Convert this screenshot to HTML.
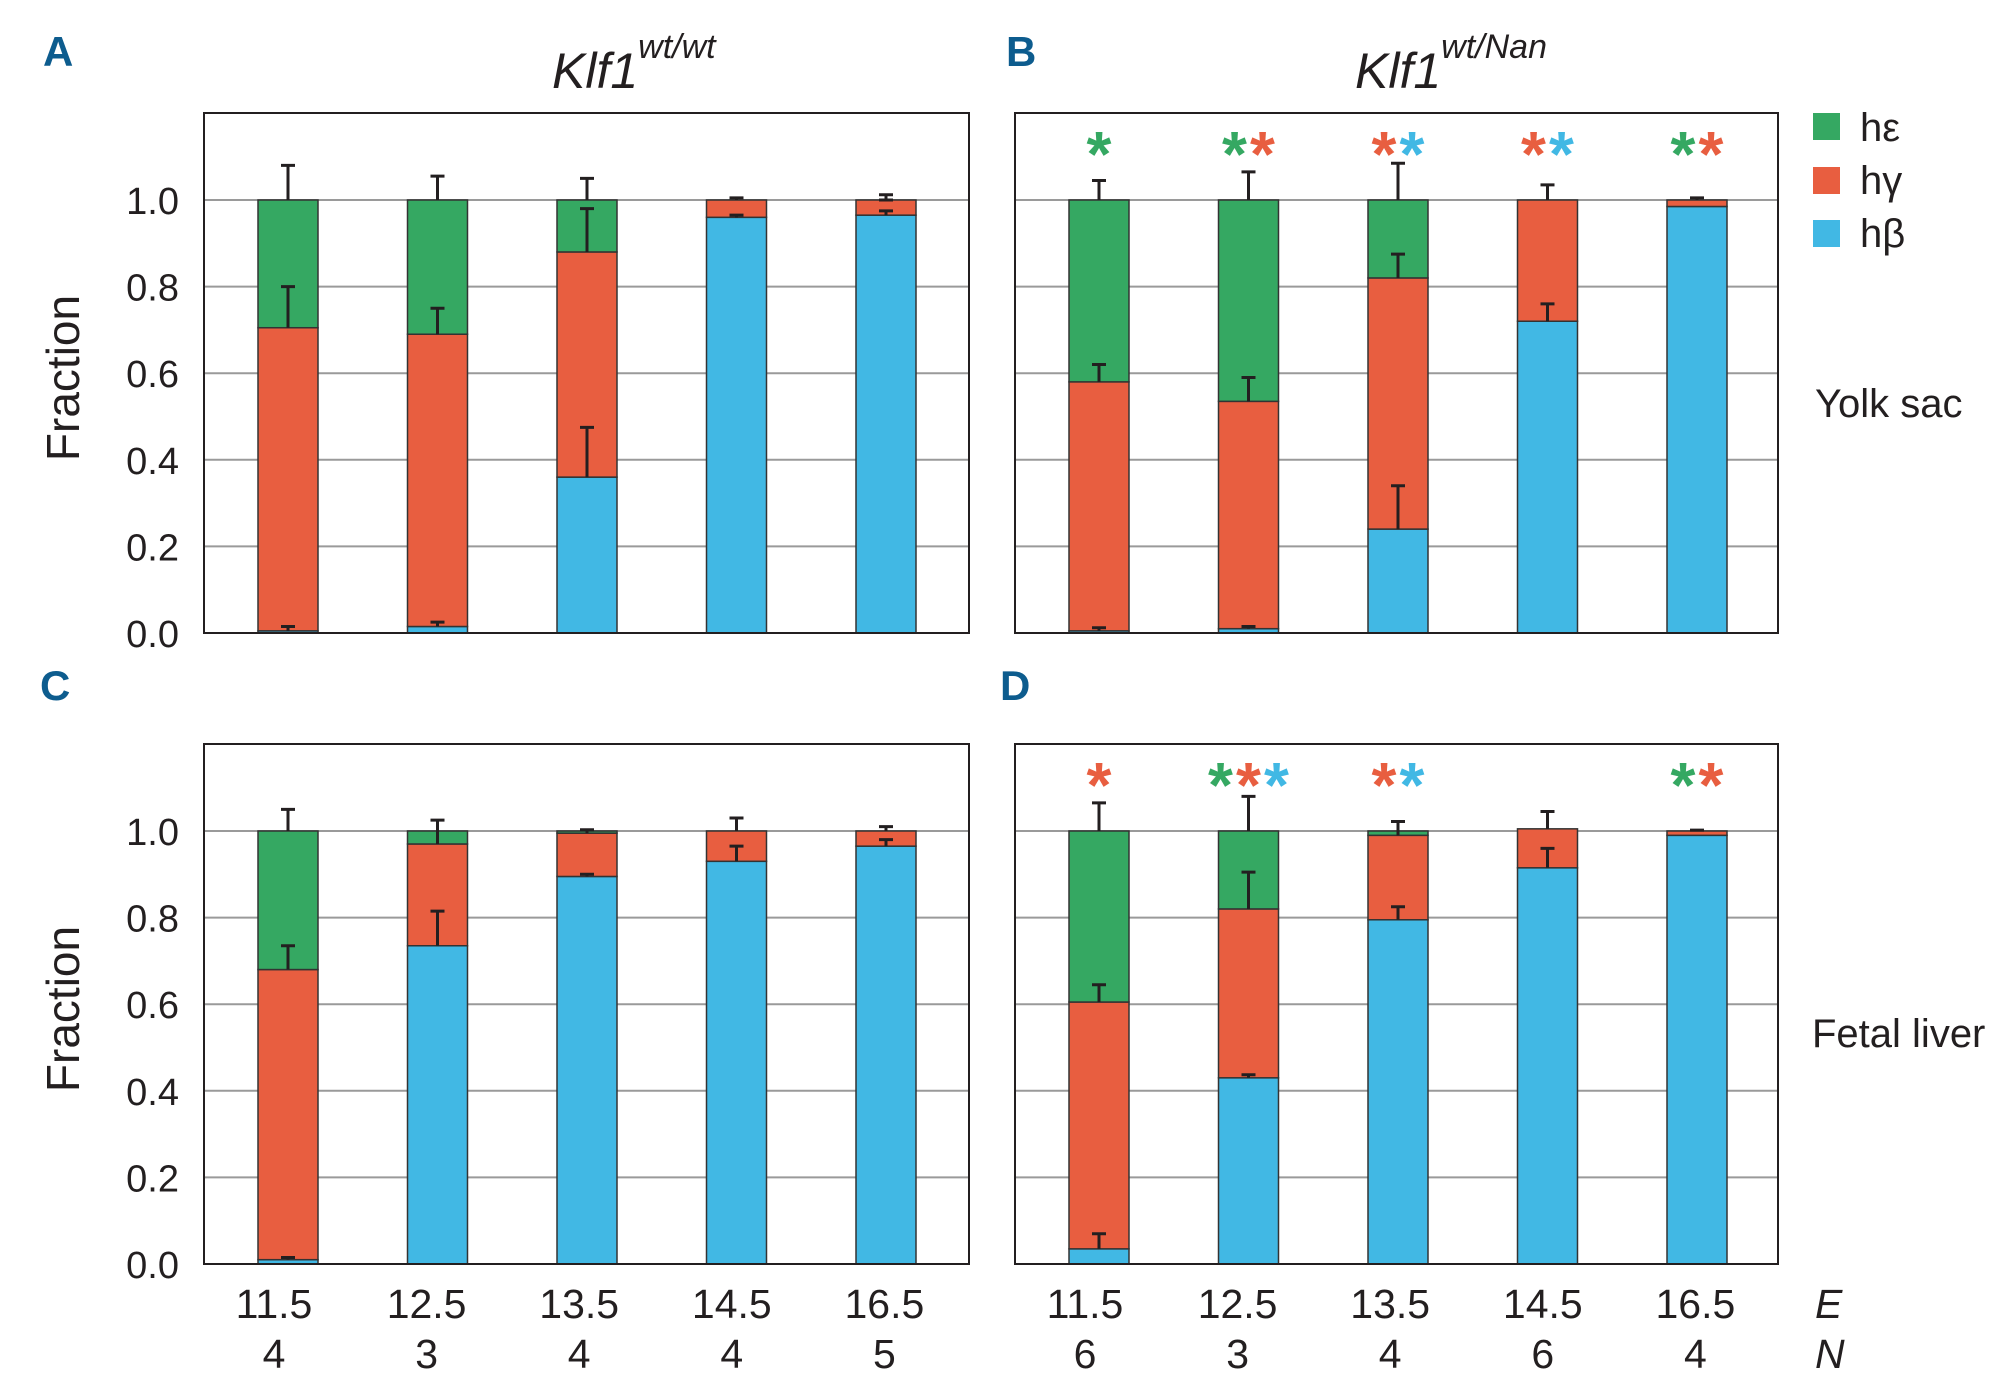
<!DOCTYPE html>
<html><head><meta charset="utf-8"><style>
html,body{margin:0;padding:0;background:#fff;}
svg{display:block;font-family:"Liberation Sans",sans-serif;}
</style></head><body>
<svg id="fig" width="2000" height="1385" viewBox="0 0 2000 1385" xmlns="http://www.w3.org/2000/svg"></svg>
<script>
// ---- data ----
const stages = ["11.5","12.5","13.5","14.5","16.5"];
const yTicks = [0,0.2,0.4,0.6,0.8,1.0];
const nA = ["4","3","4","4","5"];
const nB = ["6","3","4","6","4"];
// fractions: beta, gamma, epsilon per stage
const betaA = [0.005,0.015,0.36,0.96,0.965];
const gammaA = [0.70,0.675,0.52,0.04,0.035];
const epsA = [0.295,0.31,0.12,0,0];
const errBetaA = [0.015,0.025,0.475,0.965,0.975];
const errGammaA = [0.80,0.75,0.98,1.005,1.0];
const errEpsA = [1.08,1.055,1.05,null,1.012];

const betaB = [0.005,0.01,0.24,0.72,0.985];
const gammaB = [0.575,0.525,0.58,0.28,0.015];
const epsB = [0.42,0.465,0.18,0,0];
const errBetaB = [0.012,0.015,0.34,0.76,null];
const errGammaB = [0.62,0.59,0.875,1.035,1.005];
const errEpsB = [1.045,1.065,1.085,null,null];

const betaC = [0.01,0.735,0.895,0.93,0.965];
const gammaC = [0.67,0.235,0.10,0.07,0.035];
const epsC = [0.32,0.03,0.005,0,0];
const errBetaC = [0.015,0.815,0.90,0.965,0.98];
const errGammaC = [0.735,1.025,1.003,1.03,1.01];
const errEpsC = [1.05,null,null,null,null];

const betaD = [0.035,0.43,0.795,0.915,0.99];
const gammaD = [0.57,0.39,0.195,0.09,0.01];
const epsD = [0.395,0.18,0.01,0,0];
const errBetaD = [0.07,0.437,0.825,0.96,null];
const errGammaD = [0.645,0.905,1.022,1.045,1.002];
const errEpsD = [1.065,1.08,null,null,null];

const starsB = [["e"],["e","g"],["g","b"],["g","b"],["e","g"]];
const starsD = [["g"],["e","g","b"],["g","b"],[],["e","g"]];

const COL = {b:"#41b8e4", g:"#e85e40", e:"#35a862"};
const NS = "http://www.w3.org/2000/svg";
const svg = document.getElementById("fig");
function mk(tag, attrs, parent){const el=document.createElementNS(NS,tag);for(const k in attrs)el.setAttribute(k,attrs[k]);(parent||svg).appendChild(el);return el;}

const panels = [
 {id:"a",x0:204,x1:969,yTop:113,y0:633,y1:200,beta:betaA,gamma:gammaA,eps:epsA,eb:errBetaA,eg:errGammaA,ee:errEpsA,stars:null,yl:true,lx:274},
 {id:"b",x0:1015,x1:1778,yTop:113,y0:633,y1:200,beta:betaB,gamma:gammaB,eps:epsB,eb:errBetaB,eg:errGammaB,ee:errEpsB,stars:starsB,yl:false,lx:1085},
 {id:"c",x0:204,x1:969,yTop:744,y0:1264,y1:831,beta:betaC,gamma:gammaC,eps:epsC,eb:errBetaC,eg:errGammaC,ee:errEpsC,stars:null,yl:true,lx:274},
 {id:"d",x0:1015,x1:1778,yTop:744,y0:1264,y1:831,beta:betaD,gamma:gammaD,eps:epsD,eb:errBetaD,eg:errGammaD,ee:errEpsD,stars:starsD,yl:false,lx:1085}
];

panels.forEach(p=>{
  const g = mk("g",{});
  
  
  const yS = v => p.y0 - v*(p.y0-p.y1);
  const xS = i => p.x0 + 84 + i*149.5;
  const bw = 60;
  yTicks.forEach(t=>{
    if(t>0){const l=mk("line",{x1:p.x0,x2:p.x1,y1:yS(t),y2:yS(t),stroke:"#9a9a9a","stroke-width":2},g);
      
      }
    if(p.yl){const tx=mk("text",{x:179,y:yS(t)+14,"text-anchor":"end","font-size":38,fill:"#231f20"},g);
      tx.textContent=t.toFixed(1);
      
      }
  });
  stages.forEach((s,i)=>{
    const cx=xS(i);
    const segs=[["b",0,p.beta[i]],["g",p.beta[i],p.beta[i]+p.gamma[i]],["e",p.beta[i]+p.gamma[i],p.beta[i]+p.gamma[i]+p.eps[i]]];
    segs.forEach(sg=>{
      if(sg[2]-sg[1]<=0)return;
      const r=mk("rect",{x:cx-bw/2,y:yS(sg[2]),width:bw,height:yS(sg[1])-yS(sg[2]),fill:COL[sg[0]],stroke:"#333","stroke-width":1.5},g);
      
      
    });
    const errs=[[p.eb[i],p.beta[i]],[p.eg[i],p.beta[i]+p.gamma[i]],[p.ee[i],p.beta[i]+p.gamma[i]+p.eps[i]]];
    errs.forEach(e=>{
      if(e[0]==null)return;
      const l=mk("path",{d:`M${cx},${yS(e[1])}V${yS(e[0])}M${cx-7},${yS(e[0])}H${cx+7}`,stroke:"#231f20","stroke-width":3,fill:"none"},g);
      
      
    });
    if(p.stars){
      const st=p.stars[i];
      const w=28, start=cx-(st.length*w)/2+w/2;
      st.forEach((c,k)=>{
        const a=mk("text",{x:start+k*w,y:p.yTop+63,"text-anchor":"middle","font-size":64,"font-weight":"bold",fill:COL[c]},g);
        a.textContent="*";
        
        
      });
    }
    if(p.id==="c"||p.id==="d"){
      const lx=p.lx+i*152.6;
      const t1=mk("text",{x:lx,y:1318,"text-anchor":"middle","font-size":41,fill:"#231f20"});
      t1.textContent=s;
      
      
      const t2=mk("text",{x:lx,y:1368,"text-anchor":"middle","font-size":41,fill:"#231f20"});
      t2.textContent=(p.id==="c"?nA:nB)[i];
      
      
    }
  });
  const fr=mk("rect",{x:p.x0,y:p.yTop,width:p.x1-p.x0,height:p.y0-p.yTop,fill:"none",stroke:"#231f20","stroke-width":2},g);
  
  
  if(p.yl){
    const yt=mk("text",{x:0,y:0,"text-anchor":"middle","font-size":46,fill:"#231f20",transform:`translate(79,${(p.y0+p.yTop)/2+5}) rotate(-90)`});
    yt.textContent="Fraction";
    
    
  }
});
</script>
<div style="position:absolute;left:0;top:0;width:2000px;height:1385px;pointer-events:none;">
<svg width="2000" height="1385" style="position:absolute;left:0;top:0" xmlns="http://www.w3.org/2000/svg">
  <g font-family="Liberation Sans Narrow, Liberation Sans, sans-serif" font-weight="bold" fill="#0d5c8e" font-size="42">
    <text x="43" y="66">A</text>
    <text x="1006" y="66">B</text>
    <text x="40" y="700">C</text>
    <text x="1000" y="700">D</text>
  </g>
  <text x="552" y="88" font-size="50" font-style="italic" fill="#231f20">Klf1<tspan dy="-30" font-size="34">wt/wt</tspan></text>
  <text x="1355" y="88" font-size="50" font-style="italic" fill="#231f20">Klf1<tspan dy="-30" font-size="34">wt/Nan</tspan></text>
  <g>
    <rect x="1813" y="113" width="27" height="27" fill="#35a862"/>
    <rect x="1813" y="167" width="27" height="27" fill="#e85e40"/>
    <rect x="1813" y="220" width="27" height="27" fill="#41b8e4"/>
    <text x="1860" y="141" font-size="40" fill="#231f20">hε</text>
    <text x="1860" y="194" font-size="40" fill="#231f20">hγ</text>
    <text x="1860" y="247" font-size="40" fill="#231f20">hβ</text>
  </g>
  <text x="1815" y="417" font-size="40" fill="#231f20">Yolk sac</text>
  <text x="1812" y="1047" font-size="40" fill="#231f20">Fetal liver</text>
  <text x="1815" y="1318" font-size="41" font-style="italic" fill="#231f20">E</text>
  <text x="1815" y="1368" font-size="41" font-style="italic" fill="#231f20">N</text>
</svg>
</div>
</body></html>
